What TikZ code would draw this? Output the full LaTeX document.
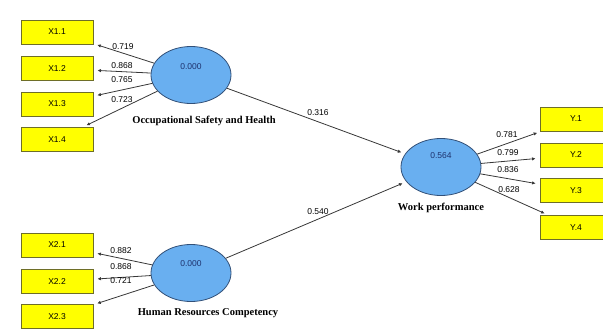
\documentclass[tikz,border=0pt]{standalone}
\usepackage{fontspec}
\setmainfont{Liberation Serif}
\setsansfont{Liberation Sans}
\usetikzlibrary{arrows.meta,shapes.geometric}
\definecolor{boxfill}{RGB}{255,255,0}
\definecolor{boxline}{RGB}{110,110,40}
\definecolor{ellfill}{RGB}{105,175,240}
\definecolor{ellline}{RGB}{50,80,120}
\definecolor{valtext}{RGB}{30,50,110}
\definecolor{linecol}{RGB}{55,55,55}
\tikzset{
  indbox/.style={rectangle,draw=boxline,line width=0.9pt,fill=boxfill,minimum width=72pt,minimum height=24pt,inner sep=0pt,font=\sffamily\fontsize{8.5}{9}\selectfont},
  latent/.style={ellipse,draw=ellline,line width=0.8pt,fill=ellfill,minimum width=80pt,minimum height=57pt,inner sep=0pt},
  valtxt/.style={font=\sffamily\fontsize{8.5}{9}\selectfont,text=valtext,inner sep=0pt},
  nametxt/.style={font=\bfseries\fontsize{10.5}{11}\selectfont,inner sep=0pt},
  coef/.style={font=\sffamily\fontsize{8.5}{9}\selectfont,inner sep=0pt},
  link/.style={draw=linecol,line width=0.8pt,-{Latex[length=3.5pt,width=3.5pt]},shorten >=4pt}
}
\begin{document}
\begin{tikzpicture}[x=1pt,y=-1pt]
\useasboundingbox (0,0) rectangle (603,329);
\clip (0,0) rectangle (603,329);
% indicator boxes
\node[indbox] (x11) at (57,32) {X1.1};
\node[indbox] (x12) at (57,68.5) {X1.2};
\node[indbox] (x13) at (57,104) {X1.3};
\node[indbox] (x14) at (57,139.5) {X1.4};
\node[indbox] (x21) at (57,245) {X2.1};
\node[indbox] (x22) at (57,281.5) {X2.2};
\node[indbox] (x23) at (57,316.5) {X2.3};
\node[indbox] (y1) at (576,119) {Y.1};
\node[indbox] (y2) at (576,155) {Y.2};
\node[indbox] (y3) at (576,190.5) {Y.3};
\node[indbox] (y4) at (576,227.5) {Y.4};
% latent variables
\node[latent] (osh) at (191,75) {};
\node[latent] (hrc) at (191,273) {};
\node[latent] (wp) at (441,167) {};
\node[valtxt] (oshv) at (191,67) {0.000};
\node[valtxt] (hrcv) at (191,264) {0.000};
\node[valtxt] (wpv) at (441,156) {0.564};
\node[nametxt] (oshn) at (204,121) {Occupational Safety and Health};
\node[nametxt] (hrcn) at (208,313) {Human Resources Competency};
\node[nametxt] (wpn) at (441,208) {Work performance};
% connectors
\draw[link] (osh) -- (x11);
\draw[link] (osh) -- (x12);
\draw[link] (osh) -- (x13);
\draw[link] (osh) -- (x14);
\draw[link] (hrc) -- (x21);
\draw[link] (hrc) -- (x22);
\draw[link] (hrc) -- (x23);
\draw[link] (osh) -- (wp);
\draw[link] (hrc) -- (wp);
\draw[link] (wp) -- (y1);
\draw[link] (wp) -- (y2);
\draw[link] (wp) -- (y3);
\draw[link] (wp) -- (y4);
% coefficients
\node[coef] (c11) at (123,47) {0.719};
\node[coef] (c12) at (122,65.5) {0.868};
\node[coef] (c13) at (122,80) {0.765};
\node[coef] (c14) at (122,99.5) {0.723};
\node[coef] (c21) at (121,251) {0.882};
\node[coef] (c22) at (121,266.5) {0.868};
\node[coef] (c23) at (121,281) {0.721};
\node[coef] (cp1) at (318,113) {0.316};
\node[coef] (cp2) at (318,212) {0.540};
\node[coef] (cy1) at (507,135) {0.781};
\node[coef] (cy2) at (508,152.5) {0.799};
\node[coef] (cy3) at (508,170) {0.836};
\node[coef] (cy4) at (509,190) {0.628};
\end{tikzpicture}
\end{document}
